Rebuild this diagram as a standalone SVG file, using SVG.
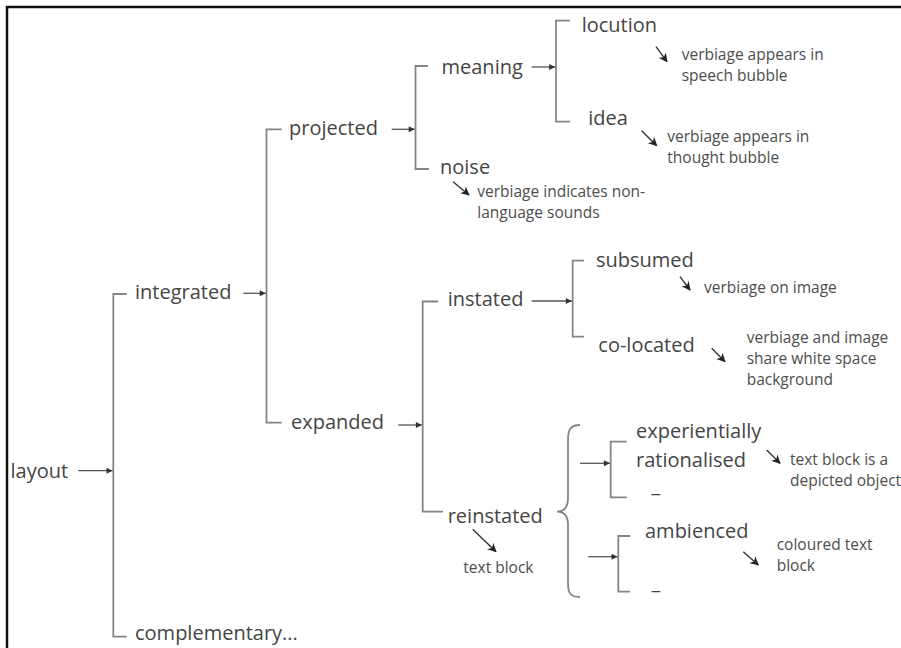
<svg xmlns="http://www.w3.org/2000/svg" width="901" height="648" viewBox="0 0 901 648">
<defs>
<style>
.lbl{font-family:"Open Sans","Liberation Sans",sans-serif;font-size:20px;fill:#454545}
.ann{font-family:"Open Sans","Liberation Sans",sans-serif;font-size:15.5px;fill:#4d4d4d}
.br{fill:none;stroke:#858585;stroke-width:1.8}
.ar{fill:none;stroke:#555;stroke-width:1.3;marker-end:url(#ah)}
.dg{fill:none;stroke:#333;stroke-width:1.4;marker-end:url(#dh)}
</style>
<marker id="ah" viewBox="0 0 10 10" refX="10" refY="5" markerWidth="7" markerHeight="6" markerUnits="userSpaceOnUse" orient="auto"><path d="M0,0 L10,5 L0,10 z" fill="#333"/></marker>
<marker id="dh" viewBox="0 0 10 10" refX="9" refY="5" markerWidth="9" markerHeight="9" markerUnits="userSpaceOnUse" orient="auto"><path d="M0,0 L10,5 L0,10 L3,5 z" fill="#222"/></marker>
</defs>
<rect width="901" height="648" fill="#fff"/>
<path d="M7,648 V7 H901" fill="none" stroke="#111" stroke-width="2.5"/>

<g id="connectors">
<path class="br" d="M126.7,294 H113.3 V636.7 H126.7"/>
<path class="ar" d="M78.3,470.7 H112.5"/>
<path class="br" d="M281.7,129.3 H266.5 V422.7 H281.7"/>
<path class="ar" d="M243.3,293.3 H265.7"/>
<path class="br" d="M428,66 H415.5 V169 H429"/>
<path class="ar" d="M391.7,129.3 H414.7"/>
<path class="br" d="M570,20.7 H556 V121.7 H570"/>
<path class="ar" d="M531.7,67 H555.2"/>
<path class="br" d="M438,301.5 H422.7 V511.7 H443"/>
<path class="ar" d="M398.3,425 H421.9"/>
<path class="br" d="M584,260.7 H572.7 V336.7 H584"/>
<path class="ar" d="M531.7,301 H571.9"/>
<path class="br" d="M626.7,441.7 H610.7 V497.3 H626.7"/>
<path class="ar" d="M580,463.3 H609.9"/>
<path class="br" d="M630,536 H618.3 V591.7 H630"/>
<path class="ar" d="M588.3,556.7 H617.5"/>
<path class="br" d="M580,425 C570,425 568,430 568,440 L568,498 C568,507 564,511.7 557,511.7 C564,511.7 568,516 568,525 L568,583 C568,593 570,597 580,597"/>
<path class="dg" d="M656,46.7 L667,61.7"/>
<path class="dg" d="M641.7,130.7 L656.7,145.7"/>
<path class="dg" d="M453,181.7 L469,195"/>
<path class="dg" d="M680,276.7 L690,290"/>
<path class="dg" d="M711.7,348.3 L725,361.7"/>
<path class="dg" d="M472.7,529.3 L496,551.7"/>
<path class="dg" d="M766.7,450 L780,463.3"/>
<path class="dg" d="M743.3,551.7 L758.3,565"/>
</g>

<g id="layout"><text class="lbl" x="10.5" y="477.5">layout</text></g>
<g id="integrated"><text class="lbl" x="135" y="299">integrated</text></g>
<g id="complementary"><text class="lbl" x="135" y="640">complementary...</text></g>
<g id="projected"><text class="lbl" x="289" y="135">projected</text></g>
<g id="expanded"><text class="lbl" x="291" y="429">expanded</text></g>
<g id="meaning"><text class="lbl" x="441.5" y="73.5">meaning</text></g>
<g id="noise"><text class="lbl" x="440" y="174">noise</text></g>
<g id="noise-note"><text class="ann" x="477.3" y="197">verbiage indicates non-</text><text class="ann" x="477.3" y="218">language sounds</text></g>
<g id="locution"><text class="lbl" x="581.7" y="32">locution</text></g>
<g id="locution-note"><text class="ann" x="681.7" y="60">verbiage appears in</text><text class="ann" x="681.7" y="80.5">speech bubble</text></g>
<g id="idea"><text class="lbl" x="588.3" y="125">idea</text></g>
<g id="idea-note"><text class="ann" x="667.3" y="142">verbiage appears in</text><text class="ann" x="667.3" y="163">thought bubble</text></g>
<g id="instated"><text class="lbl" x="447.7" y="306">instated</text></g>
<g id="subsumed"><text class="lbl" x="596" y="266.7">subsumed</text></g>
<g id="subsumed-note"><text class="ann" x="704" y="293.3">verbiage on image</text></g>
<g id="co-located"><text class="lbl" x="598.3" y="351.7">co-located</text></g>
<g id="co-located-note"><text class="ann" x="746.7" y="343.3">verbiage and image</text><text class="ann" x="746.7" y="364">share white space</text><text class="ann" x="746.7" y="384.5">background</text></g>
<g id="reinstated"><text class="lbl" x="447.7" y="523.3">reinstated</text></g>
<g id="reinstated-note"><text class="ann" x="463.3" y="573.3">text block</text></g>
<g id="experientially"><text class="lbl" x="636" y="438.3">experientially</text><text class="lbl" x="636" y="466.7">rationalised</text></g>
<g id="experientially-note"><text class="ann" x="790" y="465">text block is a</text><text class="ann" x="790" y="485.5">depicted object</text></g>
<g id="blank-1"><text class="lbl" x="651.5" y="492">_</text></g>
<g id="ambienced"><text class="lbl" x="645" y="538.3">ambienced</text></g>
<g id="ambienced-note"><text class="ann" x="776.7" y="550">coloured text</text><text class="ann" x="776.7" y="570.5">block</text></g>
<g id="blank-2"><text class="lbl" x="651.5" y="589">_</text></g>
</svg>
